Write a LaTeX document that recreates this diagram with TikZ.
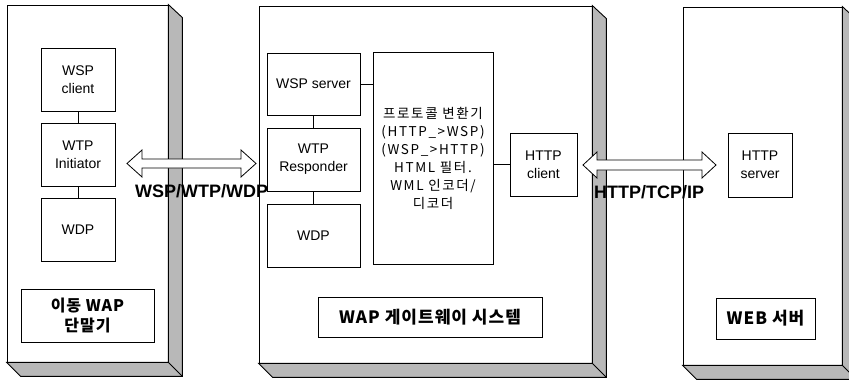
\documentclass[tikz,border=0pt]{standalone}
\usepackage{fontspec}
\setmainfont{Liberation Sans}
\newfontfamily\krfont[LetterSpace=12]{Noto Sans CJK KR}
\newfontfamily\krlabel[LetterSpace=6]{Noto Sans CJK KR}
\usetikzlibrary{calc}
\newcommand\mkshadow[1]{%
  \filldraw[shadefill] (#1.north east) -- ++(14,13) -- ($(#1.south east)+(14,14)$)
    -- ($(#1.south west)+(14,14)$) -- (#1.south west) -- (#1.south east) -- cycle;
  \draw[line width=0.9pt] (#1.south east) -- ++(14,14);}
\newcommand\hollowarrow[5]{%
  \draw[harrow] (#1) -- ($(#1)+(#3,-#4)$) -- ($(#1)+(#3,-#5)$) -- ($(#2)+(-#3,-#5)$)
    -- ($(#2)+(-#3,-#4)$) -- (#2) -- ($(#2)+(-#3,#4)$) -- ($(#2)+(-#3,#5)$)
    -- ($(#1)+(#3,#5)$) -- ($(#1)+(#3,#4)$) -- cycle;}
\begin{document}
\begin{tikzpicture}[x=1pt,y=-1pt,
  face/.style={draw, line width=0.8pt, fill=white, inner sep=0pt},
  blk/.style={draw, line width=0.9pt, fill=white, align=center, inner sep=0pt,
    font=\fontsize{14}{18}\selectfont},
  lbl/.style={draw, line width=0.9pt, fill=white, align=center, inner sep=0pt,
    font=\krlabel\bfseries\fontsize{17}{21}\selectfont},
  conn/.style={line width=0.7pt},
  shadefill/.style={fill=black!28, draw=black, line width=0.9pt},
  harrow/.style={draw, fill=white, line width=0.8pt, line join=miter},
  plabel/.style={font=\bfseries\fontsize{18}{20}\selectfont, inner sep=0pt, anchor=base west}]
\useasboundingbox (0,0) rectangle (849,380);
\clip (0,0) rectangle (849,380);
\fill[white] (0,0) rectangle (849,380);

% outer faces
\node[face, minimum width=161, minimum height=357] (dev) at (87.5,183.5) {};
\node[face, minimum width=333, minimum height=357] (gw) at (425.5,184.5) {};
\node[face, minimum width=159, minimum height=358] (web) at (762.5,186) {};
\mkshadow{dev}
\mkshadow{gw}
\mkshadow{web}

% left: mobile terminal
\node[blk, minimum width=74, minimum height=63] (wspc) at (78,79.5) {WSP\\client};
\node[blk, minimum width=74, minimum height=63] (wtpi) at (78,154.5) {WTP\\Initiator};
\node[blk, minimum width=74, minimum height=63] (wdpa) at (78,229.5) {WDP};
\node[lbl, minimum width=133, minimum height=53,
  font=\krlabel\bfseries\fontsize{16}{20}\selectfont] (devl) at (87.5,315.5) {이동 WAP\\단말기};
\draw[conn] (wspc.south) -- (wtpi.north);
\draw[conn] (wtpi.south) -- (wdpa.north);

% middle: gateway
\node[blk, minimum width=93, minimum height=62] (wsps) at (313.5,84) {WSP server};
\node[blk, minimum width=93, minimum height=63] (wtpr) at (313.5,159.5) {WTP\\Responder};
\node[blk, minimum width=93, minimum height=63] (wdpb) at (313.5,235.5) {WDP};
\node[blk, minimum width=120, minimum height=212,
  font=\krfont\fontsize{13.5}{18}\selectfont] (conv) at (433,158)
  {프로토콜 변환기\\(HTTP\_>WSP)\\(WSP\_>HTTP)\\HTML 필터.\\WML 인코더/\\디코더};
\node[blk, minimum width=67, minimum height=63] (httpc) at (543.5,164.5) {HTTP\\client};
\node[lbl, minimum width=224, minimum height=40] (gwl) at (430,317) {WAP 게이트웨이 시스템};
\draw[conn] (wsps.south) -- (wtpr.north);
\draw[conn] (wtpr.south) -- (wdpb.north);
\draw[conn] (wsps.east) -- (wsps.east -| conv.west);
\draw[conn] (httpc.west -| conv.east) -- (httpc.west);

% right: web server
\node[blk, minimum width=64, minimum height=64] (https) at (760,165) {HTTP\\server};
\node[lbl, minimum width=99, minimum height=41] (webl) at (765.5,318.5) {WEB 서버};

% protocol arrows
\coordinate (a1l) at (127,163.5);
\coordinate (a1r) at (256,163.5);
\coordinate (a2l) at (583,165);
\coordinate (a2r) at (716,165);
\hollowarrow{a1l}{a1r}{15}{13.5}{4.5}
\hollowarrow{a2l}{a2r}{14}{13}{5}
\node[plabel] (p1) at (135,197) {WSP/WTP/WDP};
\node[plabel] (p2) at (594,198) {HTTP/TCP/IP};
\end{tikzpicture}
\end{document}
